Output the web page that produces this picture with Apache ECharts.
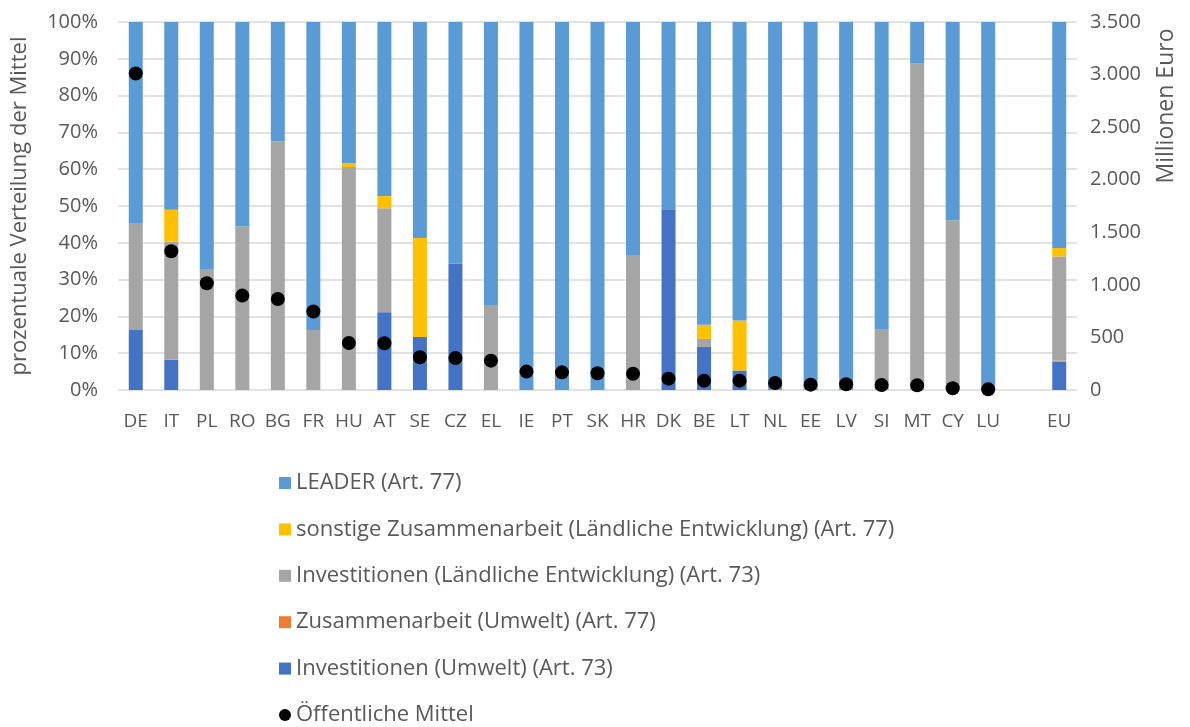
<!DOCTYPE html>
<html>
<head>
<meta charset="utf-8">
<script src="https://cdn.jsdelivr.net/npm/echarts@6/dist/echarts.min.js"></script>
<style>
  html, body { margin: 0; padding: 0; background: #fff; }
  #chart { width: 1190px; height: 727px; }
</style>
</head>
<body>
<div id="chart"></div>
<script>
// Länder (leere Kategorie als Abstand vor EU)
const categories = ['DE','IT','PL','RO','BG','FR','HU','AT','SE','CZ','EL','IE','PT','SK','HR','DK','BE','LT','NL','EE','LV','SI','MT','CY','LU','','EU'];

// Anteile in % je Maßnahme
const investUmwelt   = [16.3, 8.2, 0, 0, 0, 0, 0, 21.1, 14.4, 34.3, 0, 0, 0, 0, 0, 49.1, 11.7, 5.3, 0, 0, 0, 0, 0, 0, 0, null, 7.7];
const zusamUmwelt    = [0, 0, 0, 0, 0, 0, 0, 0, 0, 0, 0, 0, 0, 0, 0, 0, 0, 0, 0, 0, 0, 0, 0, 0, 0, null, 0.3];
const investLaendl   = [29.1, 32.1, 32.9, 44.4, 67.5, 16.3, 60.6, 28.3, 0, 0, 22.9, 0, 0, 0, 36.7, 0, 2.2, 0, 0, 0, 0, 16.6, 88.7, 46.1, 0, null, 28.3];
const sonstZusam     = [0, 8.7, 0, 0, 0, 0, 1.1, 3.3, 26.9, 0, 0, 0, 0, 0, 0, 0, 3.8, 13.6, 0, 0, 0, 0, 0, 0, 0, null, 2.3];
const leader         = [54.6, 51.0, 67.1, 55.6, 32.5, 83.7, 38.3, 47.3, 58.7, 65.7, 77.1, 100, 100, 100, 63.3, 50.9, 82.3, 81.1, 100, 100, 100, 83.4, 11.3, 53.9, 100, null, 61.4];

// Öffentliche Mittel in Millionen Euro
const oeffentlicheMittel = [3010, 1320, 1015, 898, 866, 746, 447, 444, 311, 305, 279, 175, 168, 159, 155, 108, 89, 89, 67, 51, 54, 48, 44, 16, 6, null, null];

// Skala der rechten Achse
const rightTicks = [0, 500, 1000, 1500, 2000, 2500, 3000, 3500];

const FONT = '"Open Sans", Lato, sans-serif';
const TXT = '#595959';

const fmtDe = v => String(v).replace(/\B(?=(\d{3})+(?!\d))/g, '.');

const barSeries = (name, data, color) => ({
  name, type: 'bar', stack: 'a', data, barWidth: 14,
  itemStyle: { color }, emphasis: { disabled: true }
});

const chart = echarts.init(document.getElementById('chart'));
chart.setOption({
  animation: false,
  textStyle: { fontFamily: FONT, color: TXT },
  grid: { left: 118, right: 113, top: 22, bottom: 337, outerBoundsMode: 'none', containLabel: false },
  legend: {
    orient: 'vertical', left: 279, top: 471, itemGap: 22.4, padding: 0,
    itemWidth: 12, itemHeight: 12,
    textStyle: { fontFamily: FONT, fontSize: 22, color: TXT, lineHeight: 24 },
    data: [
      { name: 'LEADER (Art. 77)', icon: 'rect' },
      { name: 'sonstige Zusammenarbeit (Ländliche Entwicklung) (Art. 77)', icon: 'rect' },
      { name: 'Investitionen (Ländliche Entwicklung) (Art. 73)', icon: 'rect' },
      { name: 'Zusammenarbeit (Umwelt) (Art. 77)', icon: 'rect' },
      { name: 'Investitionen (Umwelt) (Art. 73)', icon: 'rect' },
      { name: 'Öffentliche Mittel', icon: 'circle' }
    ]
  },
  xAxis: {
    type: 'category', data: categories,
    axisLine: { show: false }, axisTick: { show: false },
    axisLabel: { fontSize: 19, color: TXT, margin: 22, interval: 0 }
  },
  yAxis: [
    {
      type: 'value', min: 0, max: 100, interval: 10,
      name: 'prozentuale Verteilung der Mittel', nameLocation: 'middle', nameGap: 87,
      nameTextStyle: { fontSize: 22, color: TXT },
      axisLabel: { formatter: '{value}%', fontSize: 20, color: TXT, margin: 20 },
      splitLine: { lineStyle: { color: '#d9d9d9', width: 1.5 } },
      axisLine: { show: false }, axisTick: { show: false }
    },
    {
      type: 'value', min: rightTicks[0], max: rightTicks[rightTicks.length - 1], interval: 500,
      name: 'Millionen Euro', nameLocation: 'middle', nameGap: 78, nameRotate: 90,
      nameTextStyle: { fontSize: 23, color: TXT, padding: [0, 0, 0, 200] },
      axisLabel: { formatter: v => fmtDe(v), fontSize: 20, color: TXT, margin: 13 },
      splitLine: { show: false },
      axisLine: { show: false }, axisTick: { show: false }
    }
  ],
  series: [
    barSeries('Investitionen (Umwelt) (Art. 73)', investUmwelt, '#4472C4'),
    barSeries('Zusammenarbeit (Umwelt) (Art. 77)', zusamUmwelt, '#ED7D31'),
    barSeries('Investitionen (Ländliche Entwicklung) (Art. 73)', investLaendl, '#A5A5A5'),
    barSeries('sonstige Zusammenarbeit (Ländliche Entwicklung) (Art. 77)', sonstZusam, '#FFC000'),
    barSeries('LEADER (Art. 77)', leader, '#5B9BD5'),
    {
      name: 'Öffentliche Mittel', type: 'scatter', yAxisIndex: 1,
      data: oeffentlicheMittel, symbol: 'circle', symbolSize: 14,
      itemStyle: { color: '#000', opacity: 1 }, z: 5
    }
  ]
});
</script>
</body>
</html>
